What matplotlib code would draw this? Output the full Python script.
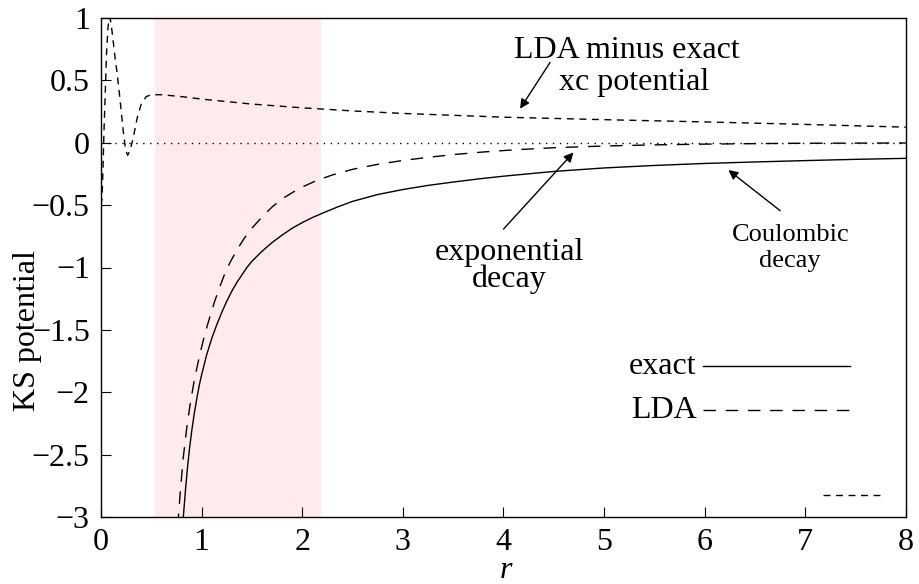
import matplotlib
matplotlib.use("Agg")
import matplotlib.pyplot as plt

plt.rcParams['font.family'] = ['Liberation Serif', 'DejaVu Serif']
plt.rcParams['font.size'] = 23

# Exact KS potential
r_exact = [0.80, 0.818, 0.84, 0.86, 0.88, 0.90, 0.925, 0.95, 0.975, 1.0, 1.05,
           1.1, 1.15, 1.2, 1.25, 1.3, 1.35, 1.4, 1.45, 1.5, 1.6, 1.7, 1.8, 1.9,
           2.0, 2.1, 2.2, 2.35, 2.5, 2.75, 3.0, 3.25, 3.5, 3.75, 4.0, 4.5, 5.0,
           5.5, 6.0, 6.5, 7.0, 7.5, 8.0]
v_exact = [-3.25, -3.0, -2.78, -2.60, -2.45, -2.32, -2.18, -2.06, -1.95, -1.86,
           -1.70, -1.57, -1.46, -1.36, -1.27, -1.19, -1.12, -1.06, -1.00, -0.95,
           -0.87, -0.80, -0.74, -0.685, -0.64, -0.60, -0.565, -0.515, -0.47,
           -0.415, -0.375, -0.342, -0.315, -0.29, -0.268, -0.23, -0.202, -0.182,
           -0.166, -0.154, -0.143, -0.133, -0.125]

# LDA KS potential
r_lda = [0.75, 0.769, 0.79, 0.818, 0.85, 0.885, 0.93, 0.984, 1.03, 1.08, 1.13,
         1.183, 1.23, 1.282, 1.35, 1.42, 1.5, 1.6, 1.7, 1.8, 1.9, 2.0, 2.15,
         2.3, 2.5, 2.75, 3.0, 3.25, 3.5, 3.8, 4.1, 4.5, 5.0, 5.5, 6.0, 6.5,
         7.0, 8.0]
v_lda = [-3.25, -3.0, -2.78, -2.52, -2.30, -2.10, -1.89, -1.69, -1.54, -1.40,
         -1.27, -1.15, -1.05, -0.96, -0.86, -0.77, -0.685, -0.595, -0.515,
         -0.45, -0.40, -0.355, -0.30, -0.258, -0.213, -0.173, -0.142, -0.117,
         -0.095, -0.074, -0.057, -0.04, -0.026, -0.017, -0.011, -0.007,
         -0.004, -0.002]

# LDA minus exact xc potential
r_diff = [0.0, 0.01, 0.02, 0.03, 0.04, 0.055, 0.07, 0.085, 0.1, 0.12, 0.14,
          0.16, 0.19, 0.22, 0.245, 0.265, 0.29, 0.32, 0.36, 0.4, 0.45, 0.5,
          0.6, 0.8, 1.0, 1.5, 2.0, 2.5, 3.0, 4.0, 5.0, 6.0, 7.0, 8.0]
v_diff = [-0.5, -0.45, -0.2, 0.1, 0.34, 0.72, 0.93, 1.01, 0.96, 0.82, 0.68,
          0.56, 0.34, 0.1, -0.06, -0.10, -0.06, 0.04, 0.20, 0.31, 0.37, 0.385,
          0.385, 0.37, 0.35, 0.31, 0.28, 0.255, 0.235, 0.205, 0.185, 0.167,
          0.147, 0.125]

x_ticks = [0, 1, 2, 3, 4, 5, 6, 7, 8]
y_ticks = [-3, -2.5, -2, -1.5, -1, -0.5, 0, 0.5, 1]
y_tick_labels = ['\u22123', '\u22122.5', '\u22122', '\u22121.5', '\u22121',
                 '\u22120.5', '0', '0.5', '1']
highlight = (0.537, 2.19)

fig = plt.figure(figsize=(9.2, 5.84), dpi=100)
ax = fig.add_axes([101 / 920, 1 - 517 / 584, 805 / 920, 499 / 584])

ax.axvspan(highlight[0], highlight[1], color='#ffebeb', lw=0, zorder=0)
ax.axhline(0, color='black', lw=1.0, ls=(0, (1, 4)), zorder=1)

long_dash = (9, 7)
short_dash = (5, 4)
ax.plot(r_exact, v_exact, color='black', lw=1.0, zorder=3)
ax.plot(r_lda, v_lda, color='black', lw=1.0, dashes=long_dash, zorder=3)
ax.plot(r_diff, v_diff, color='black', lw=1.0, dashes=short_dash, zorder=3)

ax.set_xlim(0, 8)
ax.set_ylim(-3, 1)
ax.set_xticks(x_ticks)
ax.set_xticklabels([str(t) for t in x_ticks])
ax.set_yticks(y_ticks)
ax.set_yticklabels(y_tick_labels)
ax.tick_params(direction='in', length=7, width=0.8, pad=8,
               top=False, right=False)
for s in ax.spines.values():
    s.set_linewidth(1.0)

ax.set_xlabel('r', style='italic', va='center')
ax.xaxis.set_label_coords(0.5025, -0.108)
ax.set_ylabel('KS potential', va='center')
ax.yaxis.set_label_coords(-0.0907, 0.373)

# key
tr = ax.transAxes
ax.text(0.740, 0.3026, 'exact', transform=tr, ha='right', va='center')
ax.plot([0.748, 0.930], [0.3026, 0.3026], transform=tr, color='black', lw=1.0)
ax.text(0.740, 0.2144, 'LDA', transform=tr, ha='right', va='center')
ax.plot([0.748, 0.930], [0.2144, 0.2144], transform=tr, color='black',
        lw=1.0, dashes=long_dash)
ax.plot([0.897, 0.971], [0.044, 0.044], transform=tr, color='black',
        lw=1.0, dashes=short_dash)

# annotations
arrow = dict(arrowstyle='-|>', color='black', lw=1.0, mutation_scale=14,
             shrinkA=0, shrinkB=0)
ax.text(5.23, 0.681, 'LDA minus exact', ha='center', va='baseline')
ax.text(5.30, 0.425, 'xc potential', ha='center', va='baseline')
ax.annotate('', xy=(4.165, 0.273), xytext=(4.463, 0.644), arrowprops=arrow)

ax.text(4.06, -0.94, 'exponential', ha='center', va='baseline')
ax.text(4.06, -1.16, 'decay', ha='center', va='baseline')
ax.annotate('', xy=(4.695, -0.078), xytext=(4.0, -0.692), arrowprops=arrow)

ax.text(6.85, -0.786, 'Coulombic', ha='center', va='baseline', fontsize=19)
ax.text(6.85, -1.0, 'decay', ha='center', va='baseline', fontsize=19)
ax.annotate('', xy=(6.235, -0.219), xytext=(6.75, -0.545), arrowprops=arrow)

fig.savefig('out.png', dpi=100)
